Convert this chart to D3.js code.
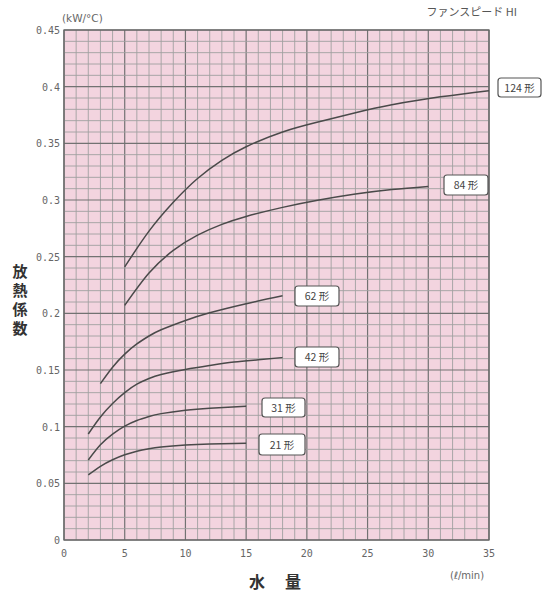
<!DOCTYPE html>
<html><head><meta charset="utf-8">
<script src="https://cdn.jsdelivr.net/npm/d3@7"></script>
<style>
html,body{margin:0;padding:0;background:#fff;}
svg{display:block;}
</style></head>
<body>
<svg id="c" width="543" height="593"></svg>
<script>
// ---- data ----
const seriesNames = ["124 形", "84 形", "62 形", "42 形", "31 形", "21 形"];
const flow124 = [5, 7, 9, 11, 13, 15, 18, 21, 24, 27, 31, 35];
const val124  = [0.241, 0.2725, 0.298, 0.319, 0.335, 0.347, 0.360, 0.369, 0.377, 0.384, 0.391, 0.3965];
const flow84  = [5, 7, 9, 11, 13, 15, 18, 21, 24, 27, 30];
const val84   = [0.207, 0.2355, 0.2555, 0.269, 0.2785, 0.2855, 0.2935, 0.300, 0.3053, 0.3093, 0.312];
const flow62  = [3, 4, 5, 6, 7, 8, 10, 12, 15, 18];
const val62   = [0.138, 0.1525, 0.164, 0.173, 0.180, 0.1855, 0.1937, 0.2005, 0.2085, 0.2155];
const flow42  = [2, 3, 4, 5, 6, 7, 8, 10, 12, 14, 16, 18];
const val42   = [0.0935, 0.1085, 0.1205, 0.130, 0.1375, 0.1425, 0.146, 0.1505, 0.154, 0.157, 0.159, 0.161];
const flow31  = [2, 3, 4, 5, 6, 7, 8, 10, 12, 15];
const val31   = [0.0706, 0.084, 0.0935, 0.1005, 0.1055, 0.109, 0.1115, 0.1145, 0.1163, 0.118];
const flow21  = [2, 3, 4, 5, 6, 7, 8, 10, 12, 15];
const val21   = [0.0574, 0.065, 0.0708, 0.0752, 0.0784, 0.0806, 0.0821, 0.0838, 0.0847, 0.0853];
const xTicks = [0, 5, 10, 15, 20, 25, 30, 35];
const yTicks = [0, 0.05, 0.1, 0.15, 0.2, 0.25, 0.3, 0.35, 0.4, 0.45];
const yTickLabels = ["0", "0.05", "0.1", "0.15", "0.2", "0.25", "0.3", "0.35", "0.4", "0.45"];

const series = [
  {name: seriesNames[0], x: flow124, y: val124},
  {name: seriesNames[1], x: flow84,  y: val84},
  {name: seriesNames[2], x: flow62,  y: val62},
  {name: seriesNames[3], x: flow42,  y: val42},
  {name: seriesNames[4], x: flow31,  y: val31},
  {name: seriesNames[5], x: flow21,  y: val21}
];
// label boxes (pixel placement)
const labelBoxes = [
  {x: 498, y: 78, w: 43, h: 19},
  {x: 444, y: 175, w: 44, h: 20},
  {x: 295, y: 286, w: 44, h: 20},
  {x: 295, y: 347, w: 44, h: 20},
  {x: 262, y: 398, w: 43, h: 19},
  {x: 259, y: 434, w: 46, h: 21}
];

const svg = d3.select("#c");
const x = d3.scaleLinear().domain([0, 35]).range([64, 489]);
const y = d3.scaleLinear().domain([0, 0.45]).range([540, 30]);

// background
svg.append("rect").attr("x", x(0)).attr("y", y(0.45))
  .attr("width", x(35) - x(0)).attr("height", y(0) - y(0.45))
  .attr("fill", "#f3d4df");

const g = svg.append("g");
d3.range(0, 36, 1).forEach(v => {
  const major = v % 5 === 0;
  g.append("line").attr("x1", x(v)).attr("x2", x(v)).attr("y1", y(0)).attr("y2", y(0.45))
    .attr("stroke", major ? "#727272" : "#a0a0a0").attr("stroke-width", major ? 1.2 : 0.9);
});
d3.range(0, 46, 1).forEach(i => {
  const v = i / 100;
  const major = i % 5 === 0;
  g.append("line").attr("x1", x(0)).attr("x2", x(35)).attr("y1", y(v)).attr("y2", y(v))
    .attr("stroke", major ? "#727272" : "#a0a0a0").attr("stroke-width", major ? 1.2 : 0.9);
});
// frame
svg.append("rect").attr("x", x(0)).attr("y", y(0.45))
  .attr("width", x(35) - x(0)).attr("height", y(0) - y(0.45))
  .attr("fill", "none").attr("stroke", "#666").attr("stroke-width", 1.3);

// axes tick labels
const tickFont = "'DejaVu Sans Mono', monospace";
svg.append("g").selectAll("text").data(yTicks).join("text")
  .attr("x", 60).attr("y", d => y(d) + 4)
  .attr("text-anchor", "end").attr("font-family", tickFont).attr("font-size", 10)
  .attr("fill", "#666").text((d, i) => yTickLabels[i]);
svg.append("g").selectAll("text").data(xTicks).join("text")
  .attr("x", d => x(d)).attr("y", 557)
  .attr("text-anchor", "middle").attr("font-family", tickFont).attr("font-size", 10)
  .attr("fill", "#666").text(d => d);

// curves
const line = d3.line().x(d => x(d[0])).y(d => y(d[1])).curve(d3.curveNatural);
series.forEach(s => {
  const pts = s.x.map((v, i) => [v, s.y[i]]);
  svg.append("path").attr("d", line(pts)).attr("fill", "none")
    .attr("stroke", "#4a4a4a").attr("stroke-width", 1.5);
});

// label boxes
series.forEach((s, i) => {
  const b = labelBoxes[i];
  svg.append("rect").attr("x", b.x).attr("y", b.y).attr("width", b.w).attr("height", b.h)
    .attr("rx", 3).attr("fill", "#fff").attr("stroke", "#555").attr("stroke-width", 1.2);
  svg.append("text").attr("x", b.x + b.w / 2).attr("y", b.y + b.h / 2 + 4)
    .attr("text-anchor", "middle").attr("font-family", "'Noto Sans CJK JP', sans-serif")
    .attr("font-size", 10.5).attr("fill", "#444").text(s.name);
});

// titles
svg.append("text").attr("x", 517).attr("y", 16).attr("text-anchor", "end")
  .attr("font-family", "'Noto Sans CJK JP', sans-serif").attr("font-size", 11)
  .attr("fill", "#555").text("ファンスピード HI");
svg.append("text").attr("x", 62).attr("y", 22)
  .attr("font-family", "'DejaVu Sans', sans-serif").attr("font-size", 10.5)
  .attr("fill", "#666").text("(kW/°C)");
const yl = ["放", "熱", "係", "数"];
svg.append("g").selectAll("text").data(yl).join("text")
  .attr("x", 20).attr("y", (d, i) => 277 + i * 19).attr("text-anchor", "middle")
  .attr("font-family", "'Noto Sans CJK JP', sans-serif").attr("font-size", 15)
  .attr("font-weight", "bold").attr("fill", "#333").text(d => d);
svg.append("text").attr("x", 257).attr("y", 588).attr("text-anchor", "middle")
  .attr("font-family", "'Noto Sans CJK JP', sans-serif").attr("font-size", 16)
  .attr("font-weight", "bold").attr("fill", "#333").text("水");
svg.append("text").attr("x", 293).attr("y", 588).attr("text-anchor", "middle")
  .attr("font-family", "'Noto Sans CJK JP', sans-serif").attr("font-size", 16)
  .attr("font-weight", "bold").attr("fill", "#333").text("量");
svg.append("text").attr("x", 467).attr("y", 579).attr("text-anchor", "middle")
  .attr("font-family", "'DejaVu Sans', sans-serif").attr("font-size", 10)
  .attr("fill", "#666").text("(ℓ/min)");
</script>
</body></html>
